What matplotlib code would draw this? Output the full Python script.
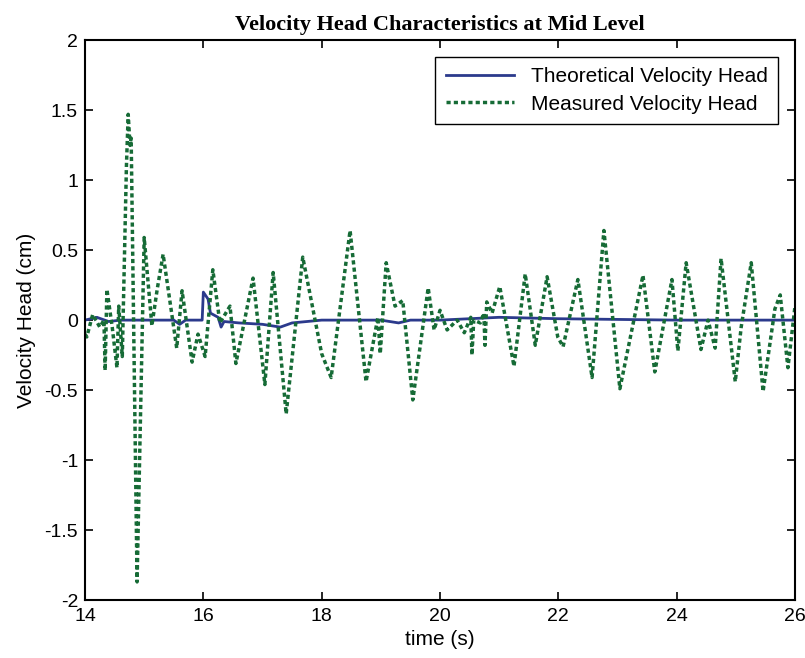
import matplotlib
matplotlib.use("Agg")
import matplotlib.pyplot as plt

# measured velocity head
t_meas = [14.00, 14.03, 14.13, 14.25, 14.32, 14.34, 14.37, 14.46, 14.54, 14.57,
          14.63, 14.70, 14.73, 14.76, 14.78, 14.88, 15.00, 15.13, 15.22, 15.32,
          15.55, 15.64, 15.81, 15.91, 16.03, 16.16, 16.28, 16.45, 16.55, 16.84,
          17.04, 17.18, 17.40, 17.68, 18.00, 18.16, 18.48, 18.75, 18.95, 18.99,
          19.09, 19.24, 19.37, 19.54, 19.80, 19.90, 20.00, 20.12, 20.29, 20.41,
          20.52, 20.54, 20.57, 20.68, 20.74, 20.76, 20.79, 20.88, 21.01, 21.25,
          21.44, 21.61, 21.81, 21.99, 22.08, 22.33, 22.57, 22.77, 23.04, 23.43,
          23.63, 23.92, 24.02, 24.16, 24.41, 24.53, 24.65, 24.75, 24.99, 25.09,
          25.26, 25.46, 25.66, 25.75, 25.88, 26.00]
v_meas = [-0.10, -0.12, 0.04, -0.05, 0.00, -0.36, 0.22, -0.05, -0.34, 0.10,
          -0.26, 1.10, 1.47, 1.25, 1.30, -1.87, 0.59, -0.04, 0.22, 0.47,
          -0.20, 0.21, -0.30, -0.10, -0.26, 0.36, -0.02, 0.10, -0.31, 0.30,
          -0.46, 0.34, -0.67, 0.45, -0.24, -0.41, 0.64, -0.44, 0.02, -0.24,
          0.41, 0.10, 0.14, -0.57, 0.23, -0.07, 0.07, -0.07, 0.00, -0.09,
          0.02, -0.25, 0.00, -0.02, 0.05, -0.18, 0.13, 0.05, 0.24, -0.33,
          0.33, -0.18, 0.31, -0.12, -0.19, 0.29, -0.41, 0.64, -0.49, 0.32,
          -0.37, 0.29, -0.22, 0.41, -0.21, 0.00, -0.20, 0.44, -0.44, -0.05,
          0.41, -0.51, 0.08, 0.18, -0.34, 0.10]

# theoretical velocity head
t_theo = [14.00, 14.20, 14.40, 14.60, 15.00, 15.50, 15.60, 15.70, 15.98, 16.00,
          16.08, 16.12, 16.25, 16.30, 16.35, 16.60, 17.00, 17.30, 17.50, 18.00,
          19.00, 19.30, 19.50, 20.00, 21.00, 22.00, 24.00, 26.00]
v_theo = [0.00, 0.02, -0.01, 0.00, 0.00, 0.00, -0.03, 0.00, 0.00, 0.20,
          0.15, 0.05, 0.02, -0.05, -0.01, -0.02, -0.03, -0.05, -0.02, 0.00,
          0.00, -0.02, 0.00, 0.00, 0.02, 0.01, 0.00, 0.00]

plt.rcParams["font.family"] = ["Liberation Sans", "DejaVu Sans"]

fig = plt.figure(figsize=(8.05, 6.58), dpi=100)
ax = fig.add_axes([0.1056, 0.088, 0.882, 0.851])

ax.plot(t_theo, v_theo, color="#2b3a8c", linewidth=2.0, label="Theoretical Velocity Head")
ax.plot(t_meas, v_meas, color="#166b36", linewidth=2.5, linestyle=(0, (1.2, 0.9)),
        label="Measured Velocity Head")

ax.set_xlim(14, 26)
ax.set_ylim(-2, 2)
ax.set_xticks([14, 16, 18, 20, 22, 24, 26])
ax.set_yticks([-2, -1.5, -1, -0.5, 0, 0.5, 1, 1.5, 2])
ax.set_yticklabels(["-2", "-1.5", "-1", "-0.5", "0", "0.5", "1", "1.5", "2"])
ax.tick_params(direction="in", top=True, right=True, labelsize=14, length=6, width=1.2)
ax.tick_params(axis="x", pad=6)
ax.tick_params(axis="y", pad=5)
for s in ax.spines.values():
    s.set_linewidth(1.5)

ax.set_xlabel("time (s)", fontsize=15, labelpad=3)
ax.set_ylabel("Velocity Head (cm)", fontsize=15, labelpad=6)
ax.set_title("Velocity Head Characteristics at Mid Level", fontsize=16,
             fontweight="bold", family="Liberation Serif", pad=7)

leg = ax.legend(loc="upper right", fontsize=15, fancybox=False, framealpha=1,
                edgecolor="black", handlelength=3.3, borderaxespad=0.8,
                labelspacing=0.4, borderpad=0.5)
leg.get_frame().set_linewidth(1.0)

fig.savefig("out.png", dpi=100)
